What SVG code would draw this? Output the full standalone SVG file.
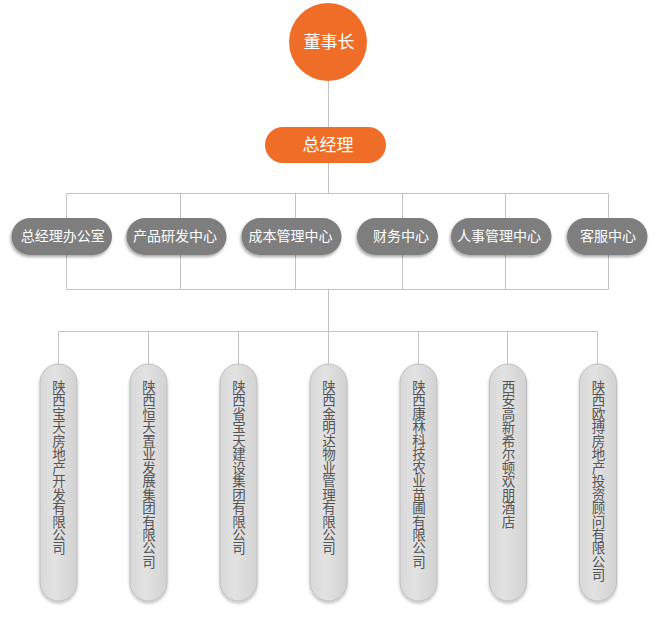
<svg xmlns="http://www.w3.org/2000/svg" width="660" height="620" viewBox="0 0 660 620">
<style>
.ln{fill:none;stroke:#c3c3c3;stroke-width:1}
.top{fill:#ef6d26}
.mid{fill:#7e7e7e;filter:url(#sh)}
.sub{fill:url(#gg);stroke:#bebebe;stroke-width:1;filter:url(#sh2)}
.tw{fill:#ffffff;font-family:"Noto Sans CJK SC","Noto Sans",sans-serif;text-anchor:middle}
.tv{fill:#555555;font-family:"Noto Sans CJK SC","Noto Sans",sans-serif;font-size:13.5px;text-anchor:middle}
</style>
<defs>
<filter id="sh" x="-20%" y="-30%" width="140%" height="170%">
<feDropShadow dx="-1" dy="2" stdDeviation="1.6" flood-color="#000" flood-opacity="0.35"/>
</filter>
<filter id="sh2" x="-40%" y="-10%" width="180%" height="120%">
<feDropShadow dx="0" dy="2" stdDeviation="1.5" flood-color="#000" flood-opacity="0.25"/>
</filter>
<linearGradient id="gg" x1="0" y1="0" x2="1" y2="0">
<stop offset="0" stop-color="#d8d8d8"/>
<stop offset="0.4" stop-color="#e2e2e2"/>
<stop offset="1" stop-color="#d2d2d2"/>
</linearGradient>
</defs>
<rect width="660" height="620" fill="#ffffff"/>
<g id="connectors">
<path class="ln" d="M328.5 81V127M328.5 163V193.5M66.5 193.5H608.5M66.5 193.5V289.5M180.5 193.5V289.5M295.5 193.5V289.5M402.5 193.5V289.5M505.5 193.5V289.5M608.5 193.5V289.5M66.5 289.5H608.5M328.5 289.5V331.5M58.5 331.5H597.5M58.5 331.5V364M148.5 331.5V364M238.5 331.5V364M328.5 331.5V364M418.5 331.5V364M507.5 331.5V364M597.5 331.5V364"/>
</g>
<g id="chairman">
<circle class="top" cx="328" cy="42" r="39"/>
<text class="tw" x="329" y="48.2" font-size="17">董事长</text>
</g>
<g id="gm">
<rect class="top" x="265" y="127" width="121" height="36" rx="18"/>
<text class="tw" x="328" y="150.8" font-size="17">总经理</text>
</g>
<g id="d1"><rect class="mid" x="11.5" y="218" width="100.5" height="37" rx="18.5"/><text class="tw" x="62.7" y="241.3" font-size="14">总经理办公室</text></g>
<g id="d2"><rect class="mid" x="126.5" y="218" width="100" height="37" rx="18.5"/><text class="tw" x="175" y="241.3" font-size="14">产品研发中心</text></g>
<g id="d3"><rect class="mid" x="241.5" y="218" width="100" height="37" rx="18.5"/><text class="tw" x="290.5" y="241.3" font-size="14">成本管理中心</text></g>
<g id="d4"><rect class="mid" x="357" y="218" width="81" height="37" rx="18.5"/><text class="tw" x="401" y="241.3" font-size="14">财务中心</text></g>
<g id="d5"><rect class="mid" x="451" y="218" width="100.5" height="37" rx="18.5"/><text class="tw" x="499" y="241.3" font-size="14">人事管理中心</text></g>
<g id="d6"><rect class="mid" x="567" y="218" width="80.5" height="37" rx="18.5"/><text class="tw" x="608" y="241.3" font-size="14">客服中心</text></g>
<g id="c1"><rect class="sub" x="40" y="364" width="37" height="237" rx="18.5"/>
<text class="tv" y="392"><tspan x="59" dy="0">陕</tspan><tspan x="59" dy="13.45">西</tspan><tspan x="59" dy="13.45">宝</tspan><tspan x="59" dy="13.45">天</tspan><tspan x="59" dy="13.45">房</tspan><tspan x="59" dy="13.45">地</tspan><tspan x="59" dy="13.45">产</tspan><tspan x="59" dy="13.45">开</tspan><tspan x="59" dy="13.45">发</tspan><tspan x="59" dy="13.45">有</tspan><tspan x="59" dy="13.45">限</tspan><tspan x="59" dy="13.45">公</tspan><tspan x="59" dy="13.45">司</tspan></text></g>
<g id="c2"><rect class="sub" x="130" y="364" width="37" height="237" rx="18.5"/>
<text class="tv" y="392"><tspan x="149" dy="0">陕</tspan><tspan x="149" dy="13.45">西</tspan><tspan x="149" dy="13.45">恒</tspan><tspan x="149" dy="13.45">天</tspan><tspan x="149" dy="13.45">置</tspan><tspan x="149" dy="13.45">业</tspan><tspan x="149" dy="13.45">发</tspan><tspan x="149" dy="13.45">展</tspan><tspan x="149" dy="13.45">集</tspan><tspan x="149" dy="13.45">团</tspan><tspan x="149" dy="13.45">有</tspan><tspan x="149" dy="13.45">限</tspan><tspan x="149" dy="13.45">公</tspan><tspan x="149" dy="13.45">司</tspan></text></g>
<g id="c3"><rect class="sub" x="220" y="364" width="37" height="237" rx="18.5"/>
<text class="tv" y="392"><tspan x="239" dy="0">陕</tspan><tspan x="239" dy="13.45">西</tspan><tspan x="239" dy="13.45">省</tspan><tspan x="239" dy="13.45">宝</tspan><tspan x="239" dy="13.45">天</tspan><tspan x="239" dy="13.45">建</tspan><tspan x="239" dy="13.45">设</tspan><tspan x="239" dy="13.45">集</tspan><tspan x="239" dy="13.45">团</tspan><tspan x="239" dy="13.45">有</tspan><tspan x="239" dy="13.45">限</tspan><tspan x="239" dy="13.45">公</tspan><tspan x="239" dy="13.45">司</tspan></text></g>
<g id="c4"><rect class="sub" x="310" y="364" width="37" height="237" rx="18.5"/>
<text class="tv" y="392"><tspan x="329" dy="0">陕</tspan><tspan x="329" dy="13.45">西</tspan><tspan x="329" dy="13.45">金</tspan><tspan x="329" dy="13.45">明</tspan><tspan x="329" dy="13.45">达</tspan><tspan x="329" dy="13.45">物</tspan><tspan x="329" dy="13.45">业</tspan><tspan x="329" dy="13.45">管</tspan><tspan x="329" dy="13.45">理</tspan><tspan x="329" dy="13.45">有</tspan><tspan x="329" dy="13.45">限</tspan><tspan x="329" dy="13.45">公</tspan><tspan x="329" dy="13.45">司</tspan></text></g>
<g id="c5"><rect class="sub" x="400" y="364" width="37" height="237" rx="18.5"/>
<text class="tv" y="392"><tspan x="419" dy="0">陕</tspan><tspan x="419" dy="13.45">西</tspan><tspan x="419" dy="13.45">康</tspan><tspan x="419" dy="13.45">林</tspan><tspan x="419" dy="13.45">科</tspan><tspan x="419" dy="13.45">技</tspan><tspan x="419" dy="13.45">农</tspan><tspan x="419" dy="13.45">业</tspan><tspan x="419" dy="13.45">苗</tspan><tspan x="419" dy="13.45">圃</tspan><tspan x="419" dy="13.45">有</tspan><tspan x="419" dy="13.45">限</tspan><tspan x="419" dy="13.45">公</tspan><tspan x="419" dy="13.45">司</tspan></text></g>
<g id="c6"><rect class="sub" x="489.5" y="364" width="37" height="237" rx="18.5"/>
<text class="tv" y="392"><tspan x="508.5" dy="0">西</tspan><tspan x="508.5" dy="13.45">安</tspan><tspan x="508.5" dy="13.45">高</tspan><tspan x="508.5" dy="13.45">新</tspan><tspan x="508.5" dy="13.45">希</tspan><tspan x="508.5" dy="13.45">尔</tspan><tspan x="508.5" dy="13.45">顿</tspan><tspan x="508.5" dy="13.45">欢</tspan><tspan x="508.5" dy="13.45">朋</tspan><tspan x="508.5" dy="13.45">酒</tspan><tspan x="508.5" dy="13.45">店</tspan></text></g>
<g id="c7"><rect class="sub" x="579.5" y="364" width="37" height="237" rx="18.5"/>
<text class="tv" y="392"><tspan x="598.5" dy="0">陕</tspan><tspan x="598.5" dy="13.45">西</tspan><tspan x="598.5" dy="13.45">欧</tspan><tspan x="598.5" dy="13.45">搏</tspan><tspan x="598.5" dy="13.45">房</tspan><tspan x="598.5" dy="13.45">地</tspan><tspan x="598.5" dy="13.45">产</tspan><tspan x="598.5" dy="13.45">投</tspan><tspan x="598.5" dy="13.45">资</tspan><tspan x="598.5" dy="13.45">顾</tspan><tspan x="598.5" dy="13.45">问</tspan><tspan x="598.5" dy="13.45">有</tspan><tspan x="598.5" dy="13.45">限</tspan><tspan x="598.5" dy="13.45">公</tspan><tspan x="598.5" dy="13.45">司</tspan></text></g>
</svg>
